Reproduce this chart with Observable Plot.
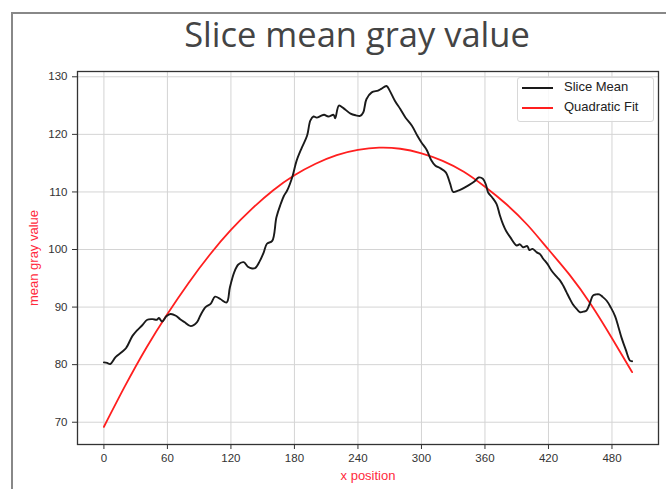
<!DOCTYPE html>
<html>
<head>
<meta charset="utf-8">
<script src="https://cdn.jsdelivr.net/npm/d3@7"></script>
<script src="https://cdn.jsdelivr.net/npm/@observablehq/plot@0.6"></script>
<style>
  html, body { margin: 0; padding: 0; background: #fff; }
  body { width: 666px; height: 489px; overflow: hidden; position: relative; }
  #border { position: absolute; left: 11px; top: 12px; width: 700px; height: 500px;
            border-left: 2px solid #888; border-top: 2px solid #888; pointer-events: none; z-index: 5; }
  #title { position: relative; height: 58px; }
  #title div { position: absolute; left: 48px; right: 0; top: 17px; text-align: center;
               font-family: "Open Sans", sans-serif; font-size: 34.5px; line-height: 34px; color: #444; }
  #legend { position: absolute; left: 517px; top: 76.5px; width: 135px; height: 43px;
            border: 1px solid #d8d8d8; border-radius: 3px; background: rgba(255,255,255,0.85);
            font-family: "Liberation Sans", Arial, sans-serif; font-size: 13px; color: #222; z-index: 4; }
  .item { position: absolute; left: 0; height: 16px; }
  .item .sw { position: absolute; left: 4px; width: 31px; height: 0; }
  .item .lb { position: absolute; left: 46px; top: 0; white-space: nowrap; line-height: 16px; }
</style>
</head>
<body>
<div id="border"></div>
<div id="title"><div>Slice mean gray value</div></div>
<div id="chart"></div>
<div id="legend"></div>
<script>
// ---- data ----
const meanX = [0,3,6,11,17,21,27,31,36,41,46,50,52,55,59,63,68,72,76,82,88,91,96,101,105,110,116,119,123,127,132,136,140,143,147,151,154,159,163,167,170,173,178,182,187,192,195,198,201,205,208,212,217,218.5,222,226,233,238,242,245,248,253,259,262,267,270,275,280,285,291,296,300,305,309,313,318,323,327,330,334,338,344,350,354,358,361,363,367,371,374,377,380,384,390,393,396,400,402,405,409,412,415,419,423,427,431,434,437,440,443,447,450,453,456,459,462,465,468,471,475,479,483,486,489,493,497,499];
const meanY = [80.4,80.3,80.1,81.3,82.2,82.9,85.0,85.9,86.8,87.8,87.9,87.8,88.1,87.5,88.4,88.8,88.5,87.9,87.4,86.7,87.4,88.5,90.0,90.6,91.8,91.4,90.8,93.4,96.0,97.4,97.8,97.0,96.7,96.8,97.9,99.5,101.0,101.5,105.6,107.9,109.3,110.2,112.6,115.4,117.7,119.8,122.4,123.1,122.9,123.2,123.4,123.1,123.4,122.8,125.0,124.6,123.6,123.3,123.2,123.8,126.1,127.3,127.6,127.9,128.4,127.6,125.8,124.4,122.9,121.5,119.8,118.6,117.3,115.6,114.6,114.1,113.4,111.5,110.0,110.2,110.5,111.1,111.8,112.5,112.3,111.2,109.9,109.0,107.9,106.0,104.4,103.2,102.1,100.7,100.9,100.4,100.6,99.9,100.1,99.5,99.2,98.4,97.5,96.3,95.4,94.6,93.7,92.6,91.5,90.5,89.6,89.1,89.2,89.4,90.6,92.0,92.2,92.2,91.8,91.1,89.9,88.4,86.6,84.7,82.6,80.7,80.6];
const fitX = [0,20,40,60,80,100,120,140,160,180,200,220,240,260,280,300,320,340,360,380,400,420,440,460,480,499];
const fitY = [69.2,76.3,82.9,88.8,94.2,99.1,103.4,107.1,110.3,112.9,114.9,116.4,117.3,117.7,117.5,116.7,115.4,113.5,110.9,107.9,104.3,100.0,95.6,90.5,84.6,78.7];
const xTicks = [0,60,120,180,240,300,360,420,480];
const yTicks = [70,80,90,100,110,120,130];
const seriesNames = ["Slice Mean", "Quadratic Fit"];
const seriesColors = ["#1a1a1a", "#ff1f1f"];
const xLabel = "x position";
const yLabel = "mean gray value";

const meanData = meanX.map((x, i) => ({x, y: meanY[i]}));
const fitData = fitX.map((x, i) => ({x, y: fitY[i]}));

const chart = Plot.plot({
  width: 666,
  height: 431,
  marginTop: 13,
  marginBottom: 45,
  marginLeft: 77,
  marginRight: 8,
  style: { fontFamily: "'Liberation Sans', Arial, sans-serif", fontSize: "11.5px", color: "#333", background: "transparent" },
  x: { domain: [-24.95, 523.95] },
  y: { domain: [66.13, 130.92] },
  marks: [
    Plot.gridX(xTicks, { stroke: "#d4d4d4", strokeOpacity: 1, strokeWidth: 1 }),
    Plot.gridY(yTicks, { stroke: "#d4d4d4", strokeOpacity: 1, strokeWidth: 1 }),
    Plot.line(fitData, { x: "x", y: "y", stroke: seriesColors[1], strokeWidth: 1.8, curve: "natural" }),
    Plot.line(meanData, { x: "x", y: "y", stroke: seriesColors[0], strokeWidth: 1.9, curve: "catmull-rom" }),
    Plot.frame({ stroke: "#333", strokeWidth: 1.3 }),
    Plot.axisX(xTicks, { tickSize: 5, tickPadding: 4, label: null, stroke: "#333", fill: "#333" }),
    Plot.axisY(yTicks, { tickSize: 5, tickPadding: 5, label: null, stroke: "#333", fill: "#333" }),
    Plot.text([xLabel], { frameAnchor: "bottom", dy: 35, fill: "#ff2a3c", fontSize: 13 }),
    Plot.text([yLabel], { frameAnchor: "left", textAnchor: "middle", dx: -44, rotate: -90, fill: "#ff2a3c", fontSize: 13 })
  ]
});
document.getElementById("chart").appendChild(chart);

const legend = document.getElementById("legend");
seriesNames.forEach((name, i) => {
  const it = document.createElement("div");
  it.className = "item";
  it.style.top = (i === 0 ? 1 : 21) + "px";
  it.innerHTML = `<div class="sw" style="top:8px;border-top:2px solid ${seriesColors[i]}"></div><div class="lb">${name}</div>`;
  legend.appendChild(it);
});
</script>
</body>
</html>
